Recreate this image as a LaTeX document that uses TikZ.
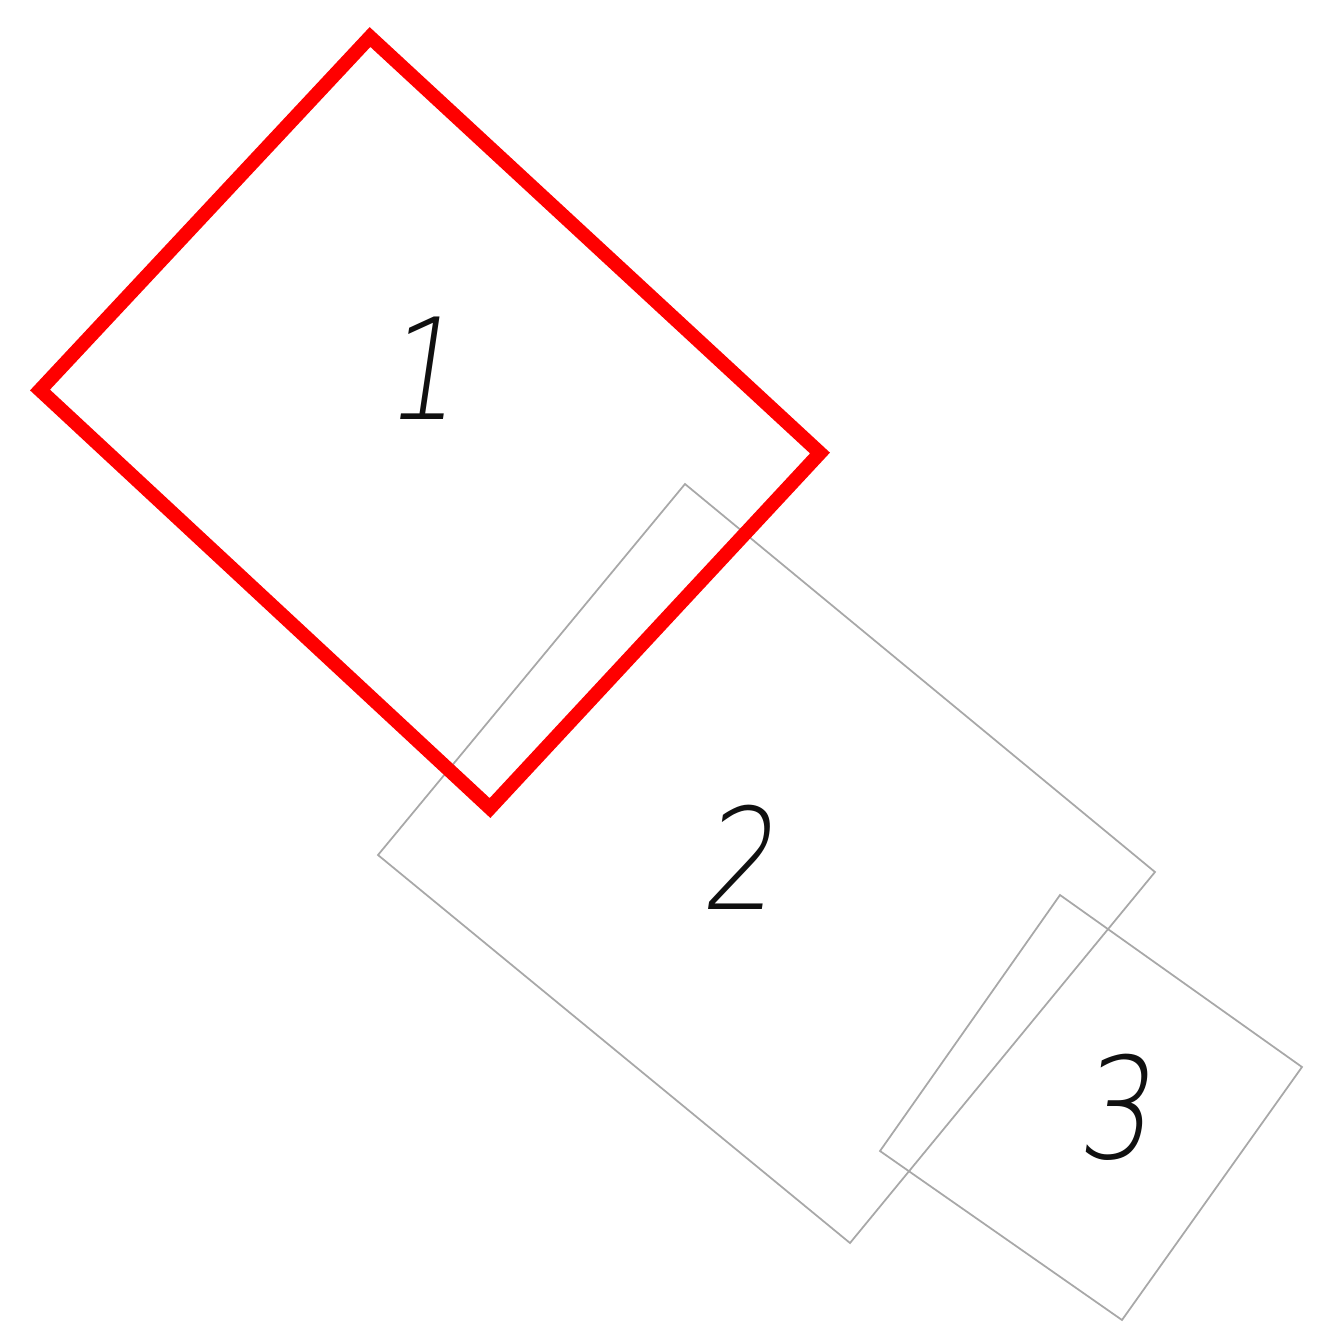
\documentclass[tikz,border=0pt]{standalone}
\usepackage{fontspec}
\newfontfamily\cadfont{DejaVu Sans ExtraLight}[FakeSlant=0.18]
\definecolor{mark}{HTML}{FF0000}
\definecolor{plot}{HTML}{A8A8A8}
\definecolor{ink}{HTML}{101010}
\tikzset{
  markzone/.style={draw=mark,line width=4pt,line join=miter},
  plotzone/.style={draw=plot,line width=0.5pt},
  zonenum/.style={font=\cadfont\fontsize{40}{40}\selectfont,text=ink,inner sep=0pt,
    xscale=0.82,transform shape}
}

\begin{document}
\begin{tikzpicture}[x=0.01cm,y=-0.01cm]
  \useasboundingbox (0,0) rectangle (1325,1341);

  % plots 2 and 3
  \draw[plotzone] (685,484) -- (1155,872) -- (850,1243) -- (378,855) -- cycle;
  \draw[plotzone] (1060,895) -- (1302,1067) -- (1122,1320) -- (880,1151) -- cycle;

  % plot 1, marked
  \draw[markzone] (370,37) -- (820,453) -- (490,808) -- (40,390) -- cycle;

  \node[zonenum] (num1) at (420,368) {1};
  \node[zonenum] (num2) at (737,857) {2};
  \node[zonenum] (num3) at (1113,1107) {3};
\end{tikzpicture}
\end{document}
